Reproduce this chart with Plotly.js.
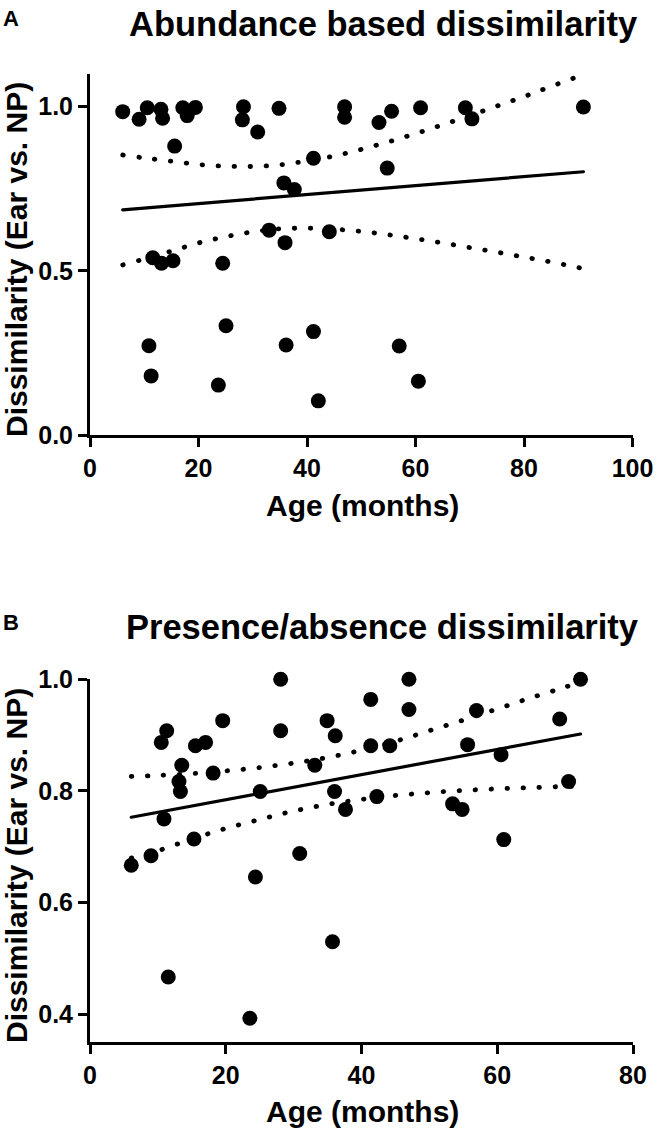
<!DOCTYPE html>
<html>
<head>
<meta charset="utf-8">
<script src="https://cdn.plot.ly/plotly-3.0.1.min.js"></script>
<style>
html,body{margin:0;padding:0;background:#fff}
#chart{width:658px;height:1136px}
#chart path.js-line{stroke-linecap:round !important}
</style>
</head>
<body>
<div id="chart"></div>
<script>
// ---------- Panel A: Abundance based dissimilarity ----------
const ageA = [6.03, 9.05, 10.56, 10.86, 11.27, 11.57, 13.08, 13.18, 13.38, 15.30, 15.60, 17.11, 17.92, 19.43,
  23.66, 24.46, 25.07, 28.09, 28.29, 30.91, 33.02, 34.84, 35.74, 35.95, 36.15, 37.66, 41.19, 41.19, 42.09,
  44.11, 46.93, 46.93, 53.27, 54.79, 55.59, 57.00, 60.53, 60.93, 69.19, 70.40, 90.95];
const dissA = [0.985, 0.962, 0.997, 0.272, 0.180, 0.540, 0.992, 0.523, 0.965, 0.531, 0.880, 0.997, 0.973, 0.998,
  0.152, 0.523, 0.333, 0.960, 1.000, 0.923, 0.624, 0.995, 0.768, 0.586, 0.274, 0.748, 0.843, 0.315, 0.104,
  0.619, 1.000, 0.968, 0.952, 0.813, 0.986, 0.271, 0.164, 0.997, 0.997, 0.963, 0.999];
const fitXA = [6.03, 90.95];
const fitYA = [0.686, 0.802];
const bandXA = [6.03, 10, 15, 20, 25, 30, 35, 40, 45, 50, 55, 60, 65, 70, 75, 80, 85, 90.95];
const upperA = [0.853, 0.844, 0.834, 0.824, 0.819, 0.818, 0.823, 0.835, 0.850, 0.870, 0.893, 0.918, 0.945, 0.973, 1.002, 1.031, 1.062, 1.098];
const lowerA = [0.518, 0.536, 0.560, 0.585, 0.604, 0.619, 0.628, 0.630, 0.627, 0.620, 0.610, 0.598, 0.585, 0.571, 0.557, 0.542, 0.527, 0.507];

// ---------- Panel B: Presence/absence dissimilarity ----------
const ageB = [6.08, 8.99, 10.50, 10.90, 11.30, 11.53, 13.11, 13.32, 13.52, 15.32, 15.53, 17.03, 18.14, 19.55,
  23.55, 24.37, 25.08, 28.09, 28.09, 30.90, 33.12, 34.93, 35.73, 36.03, 36.13, 37.64, 41.36, 41.36, 42.26,
  44.17, 46.99, 46.99, 53.42, 54.83, 55.63, 56.94, 60.56, 60.96, 69.20, 70.51, 72.27];
const dissB = [0.667, 0.684, 0.887, 0.750, 0.908, 0.467, 0.817, 0.799, 0.846, 0.714, 0.881, 0.887, 0.832, 0.926,
  0.393, 0.646, 0.799, 1.000, 0.908, 0.688, 0.846, 0.926, 0.530, 0.799, 0.899, 0.767, 0.964, 0.881, 0.790,
  0.881, 1.000, 0.946, 0.777, 0.767, 0.883, 0.944, 0.865, 0.713, 0.929, 0.817, 1.000];
const fitXB = [6.08, 72.27];
const fitYB = [0.753, 0.902];
const bandXB = [6.08, 10, 15, 20, 25, 30, 35, 40, 45, 50, 55, 60, 65, 70, 72.27];
const upperB = [0.826, 0.828, 0.831, 0.836, 0.842, 0.850, 0.860, 0.873, 0.889, 0.908, 0.927, 0.947, 0.967, 0.986, 0.996];
const lowerB = [0.680, 0.693, 0.714, 0.733, 0.749, 0.764, 0.776, 0.785, 0.792, 0.797, 0.801, 0.804, 0.806, 0.808, 0.808];

// ---------- Text ----------
const titleA = 'Abundance based dissimilarity';
const titleB = 'Presence/absence dissimilarity';
const xTitle = 'Age (months)';
const yTitle = 'Dissimilarity (Ear vs. NP)';
const ticksXA = [0, 20, 40, 60, 80, 100];
const ticksXB = [0, 20, 40, 60, 80];
const ticksYA = [0, 0.5, 1.0];
const ticksYB = [0.4, 0.6, 0.8, 1.0];

const W = 658, H = 1136;
const FONT = 'Liberation Sans, Arial, sans-serif';
const px = v => v / W;
const py = v => 1 - v / H;

const markerStyle = {size: 15, color: '#000', line: {width: 0}};
const bandLine = {color: '#000', width: 4.8, dash: '0.5px,15.5px', shape: 'spline', smoothing: 1};

function panel(xa, ya, ages, vals, fx, fy, bx, up, lo) {
  return [
    {x: bx, y: up, xaxis: xa, yaxis: ya, type: 'scatter', mode: 'lines', line: bandLine, hoverinfo: 'skip', cliponaxis: false},
    {x: bx, y: lo, xaxis: xa, yaxis: ya, type: 'scatter', mode: 'lines', line: bandLine, hoverinfo: 'skip', cliponaxis: false},
    {x: fx, y: fy, xaxis: xa, yaxis: ya, type: 'scatter', mode: 'lines', line: {color: '#000', width: 3.2}, cliponaxis: false},
    {x: ages, y: vals, xaxis: xa, yaxis: ya, type: 'scatter', mode: 'markers', marker: markerStyle, cliponaxis: false}
  ];
}

const data = [].concat(
  panel('x', 'y', ageA, dissA, fitXA, fitYA, bandXA, upperA, lowerA),
  panel('x2', 'y2', ageB, dissB, fitXB, fitYB, bandXB, upperB, lowerB)
);

const axisCommon = {
  showline: true, linewidth: 3, linecolor: '#000', mirror: false,
  ticks: 'outside', ticklen: 9, tickwidth: 3, tickcolor: '#000',
  showgrid: false, zeroline: false, fixedrange: true,
  tickfont: {family: FONT, size: 25, color: '#000', weight: 'bold'}
};

const tf = {family: FONT, color: '#000', weight: 'bold'};

const layout = {
  width: W, height: H,
  margin: {l: 0, r: 0, t: 0, b: 0},
  paper_bgcolor: '#fff', plot_bgcolor: '#fff',
  showlegend: false,
  font: {family: FONT, color: '#000'},
  xaxis: Object.assign({}, axisCommon, {domain: [px(90), px(632.5)], range: [0, 100], tickvals: ticksXA, anchor: 'y'}),
  yaxis: Object.assign({}, axisCommon, {domain: [py(435), py(73.9)], range: [0, 1.1], tickvals: ticksYA, tickformat: '.1f', anchor: 'x'}),
  xaxis2: Object.assign({}, axisCommon, {domain: [px(90), px(633)], range: [0, 80], tickvals: ticksXB, anchor: 'y2'}),
  yaxis2: Object.assign({}, axisCommon, {domain: [py(1042.3), py(679.3)], range: [0.35, 1.0], tickvals: ticksYB, tickformat: '.1f', anchor: 'x2'}),
  annotations: [
    {text: 'A', x: px(11), y: py(19), xref: 'paper', yref: 'paper', xanchor: 'center', yanchor: 'middle', showarrow: false, font: Object.assign({size: 22}, tf)},
    {text: titleA, x: px(383), y: py(24), xref: 'paper', yref: 'paper', xanchor: 'center', yanchor: 'middle', showarrow: false, font: Object.assign({size: 34.5}, tf)},
    {text: yTitle, x: px(16), y: py(260), xref: 'paper', yref: 'paper', xanchor: 'center', yanchor: 'middle', textangle: -90, showarrow: false, font: Object.assign({size: 30}, tf)},
    {text: xTitle, x: px(362), y: py(505), xref: 'paper', yref: 'paper', xanchor: 'center', yanchor: 'middle', showarrow: false, font: Object.assign({size: 30}, tf)},
    {text: 'B', x: px(11), y: py(622), xref: 'paper', yref: 'paper', xanchor: 'center', yanchor: 'middle', showarrow: false, font: Object.assign({size: 22}, tf)},
    {text: titleB, x: px(382), y: py(627), xref: 'paper', yref: 'paper', xanchor: 'center', yanchor: 'middle', showarrow: false, font: Object.assign({size: 34.5}, tf)},
    {text: yTitle, x: px(16), y: py(866), xref: 'paper', yref: 'paper', xanchor: 'center', yanchor: 'middle', textangle: -90, showarrow: false, font: Object.assign({size: 30}, tf)},
    {text: xTitle, x: px(362), y: py(1111), xref: 'paper', yref: 'paper', xanchor: 'center', yanchor: 'middle', showarrow: false, font: Object.assign({size: 30}, tf)}
  ]
};

Plotly.newPlot('chart', data, layout, {staticPlot: true, displayModeBar: false});
</script>
</body>
</html>
